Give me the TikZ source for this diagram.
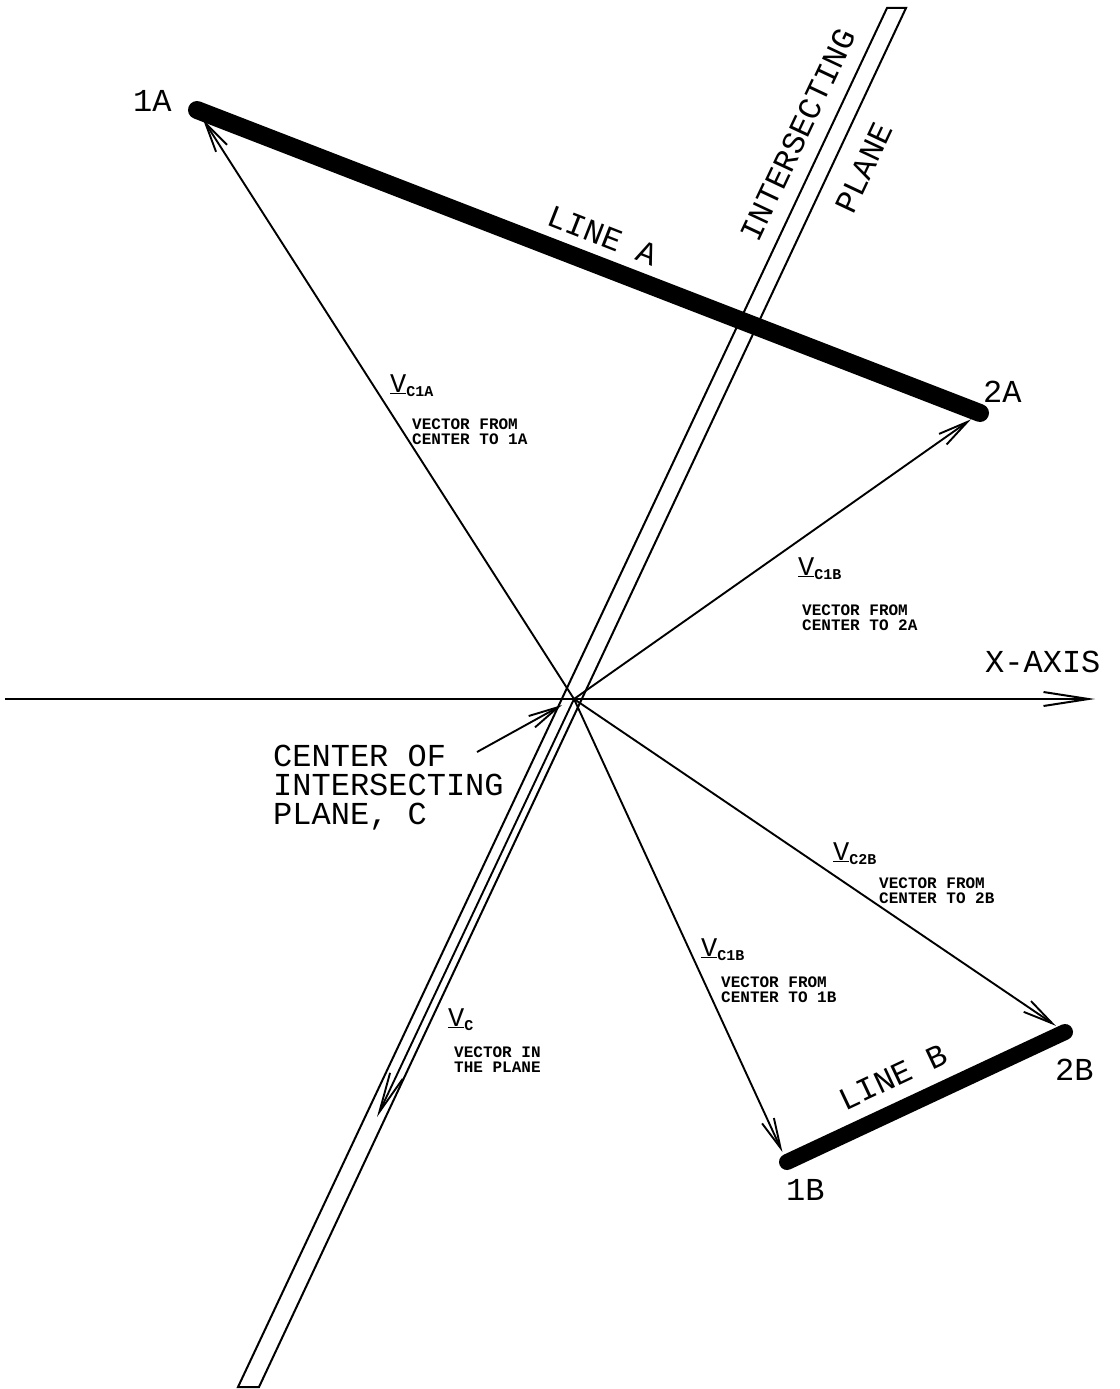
\documentclass[tikz,border=0pt]{standalone}
\usepackage{fontspec}
\setmainfont{Liberation Sans}
\setmonofont{Liberation Mono}
\usetikzlibrary{arrows.meta}
\newcommand{\vlab}[1]{{\fontsize{27}{27}\selectfont\underline{V}}\raisebox{-4pt}{\fontsize{15}{15}\selectfont\bfseries #1}}
\begin{document}
\begin{tikzpicture}[x=1pt,y=-1pt,
  thinline/.style={line width=2pt},
  vec/.style={line width=1.9pt,-{Straight Barb[length=30pt,width=13pt]},shorten >=11pt},
  seg/.style={line width=18pt,line cap=round},
  big/.style={font=\ttfamily\fontsize{32}{29}\selectfont, inner sep=0pt},
  desc/.style={font=\ttfamily\bfseries\fontsize{16}{15}\selectfont, inner sep=0pt, align=left, anchor=north west},
  vl/.style={font=\ttfamily, inner sep=0pt, anchor=base west}]
\fill[white] (0,0) rectangle (1119,1389);
\useasboundingbox (0,0) rectangle (1119,1389);
% coordinates
\coordinate (C) at (574,699);
\coordinate (P1A) at (197,110);
\coordinate (P2A) at (980,413);
\coordinate (P1B) at (787,1162);
\coordinate (P2B) at (1065,1032);
\coordinate (PTL) at (887,8);
\coordinate (PTR) at (906,8);
\coordinate (PBR) at (259,1387);
\coordinate (PBL) at (238,1387);
\coordinate (VCend) at (377,1117);
\coordinate (Xs) at (5,699);
\coordinate (Xe) at (1095,699);
\coordinate (Lstart) at (477,752);
\coordinate (Ltip) at (562,705);
% plane
\draw[thinline] (PTL) -- (PTR) -- (PBR) -- (PBL) -- cycle;
% lines A and B
\draw[seg] (P1A) -- (P2A);
\draw[seg, line width=16pt] (P1B) -- (P2B);
% x-axis
\draw[thinline,-{Straight Barb[length=45pt,width=14pt]}] (Xs) -- (Xe);
% vectors
\draw[vec] (C) -- (P1A);
\draw[vec] (C) -- (P2A);
\draw[vec] (C) -- (P1B);
\draw[vec] (C) -- (P2B);
\draw[vec, shorten >=0pt, -{Straight Barb[length=40pt,width=14pt]}] (C) -- (VCend);
\draw[vec, shorten >=0pt] (Lstart) -- (Ltip);
% big labels
\node[big, anchor=base west] (t1A) at (133,111) {1A};
\node[big, anchor=base west] (t2A) at (983,402) {2A};
\node[big, anchor=base west] (t1B) at (786,1200) {1B};
\node[big, anchor=base west] (t2B) at (1055,1080) {2B};
\node[big, anchor=base west] (tX) at (985,672) {X-AXIS};
\node[big, anchor=north west, align=left] (tC) at (273,745) {CENTER OF\\INTERSECTING\\PLANE, C};
\node[big, rotate=-21.4] (tLA) at (603,236) {LINE A};
\node[big, rotate=25.2] (tLB) at (893,1077) {LINE B};
\node[big, rotate=64.8] (tIP) at (798,135) {INTERSECTING};
\node[big, rotate=64.8] (tPL) at (864,168) {PLANE};
% vector labels
\node[vl] (v1) at (390,392) {\vlab{C1A}};
\node[desc] (d1) at (412,419) {VECTOR FROM\\CENTER TO 1A};
\node[vl] (v2) at (798,575) {\vlab{C1B}};
\node[desc] (d2) at (802,605) {VECTOR FROM\\CENTER TO 2A};
\node[vl] (v3) at (833,860) {\vlab{C2B}};
\node[desc] (d3) at (879,878) {VECTOR FROM\\CENTER TO 2B};
\node[vl] (v4) at (701,956) {\vlab{C1B}};
\node[desc] (d4) at (721,977) {VECTOR FROM\\CENTER TO 1B};
\node[vl] (v5) at (448,1026) {\vlab{C}};
\node[desc] (d5) at (454,1047) {VECTOR IN\\THE PLANE};
\end{tikzpicture}
\end{document}
